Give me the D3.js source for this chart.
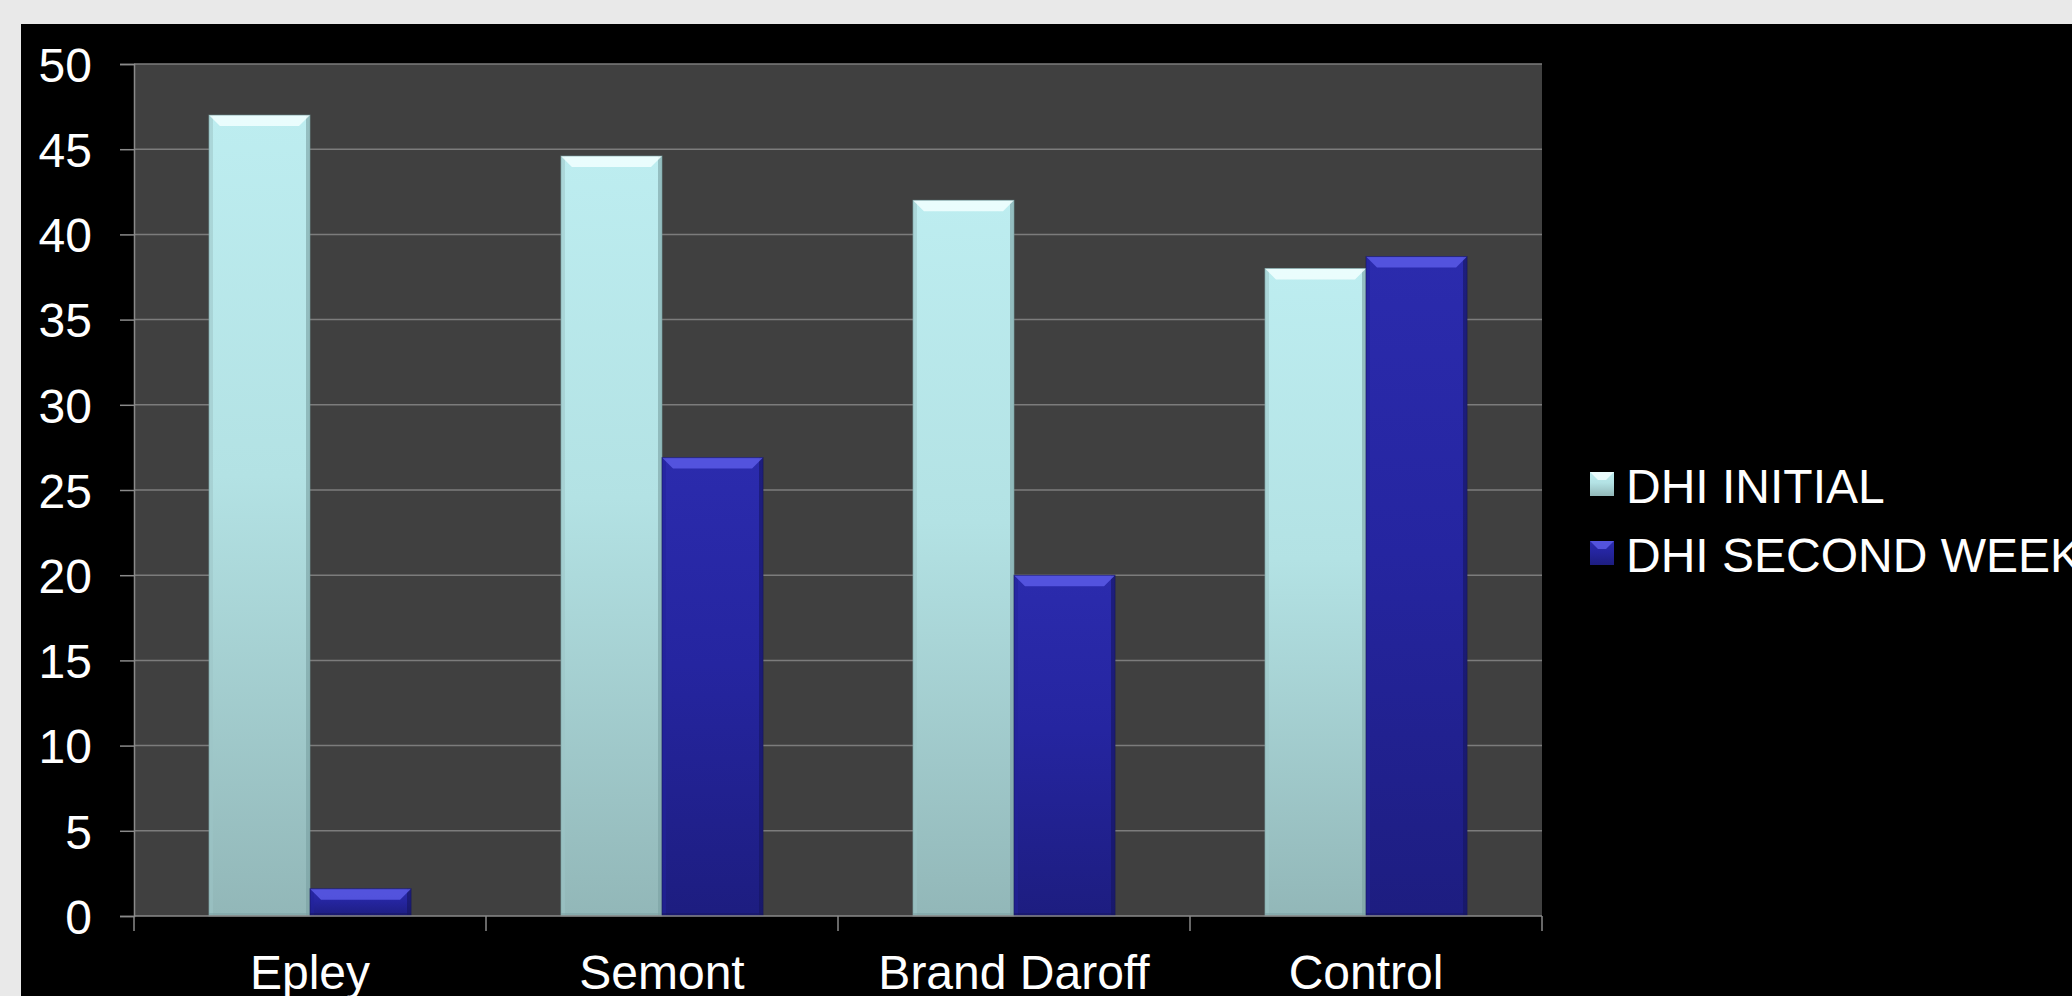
<!DOCTYPE html>
<html>
<head>
<meta charset="utf-8">
<script src="https://cdn.jsdelivr.net/npm/d3@7/dist/d3.min.js"></script>
<style>
  html, body { margin: 0; padding: 0; background: #e9e9e9; }
  svg { display: block; }
  text { font-family: "Liberation Sans", Arial, sans-serif; fill: #ffffff; }
</style>
</head>
<body>
<svg id="chart" width="2072" height="996"></svg>
<script>
// DHI scores by manoeuvre, initial visit vs. second week
const categories = ["Epley", "Semont", "Brand Daroff", "Control"];
const seriesNames = ["DHI INITIAL", "DHI SECOND WEEK"];
const dhiInitial = [47.0, 44.6, 42.0, 38.0];
const dhiSecondWeek = [1.6, 26.9, 20.0, 38.7];
const yTicks = [0, 5, 10, 15, 20, 25, 30, 35, 40, 45, 50];

const seriesValues = [dhiInitial, dhiSecondWeek];

const W = 2072, H = 996;
const plot = { left: 134, right: 1542, top: 64, bottom: 916 };
const FONT = "48px";

const svg = d3.select("#chart");

// page panel
svg.append("rect").attr("x", 21).attr("y", 24)
  .attr("width", W - 21).attr("height", H - 24).attr("fill", "#000");

const defs = svg.append("defs");
const fills = [
  { id: "gLight", stops: [["0%", "#bdedf0"], ["45%", "#b3e2e4"], ["100%", "#92b7b8"]],
    top: "#f2ffff", side: "#9cc4c6", edge: "#7aa0a2" },
  { id: "gDark", stops: [["0%", "#2b2bad"], ["45%", "#2525a0"], ["100%", "#1d1d80"]],
    top: "#5b5be6", side: "#22229a", edge: "#15155e" }
];
fills.forEach(f => {
  const g = defs.append("linearGradient").attr("id", f.id)
    .attr("x1", 0).attr("y1", 0).attr("x2", 0).attr("y2", 1);
  f.stops.forEach(s => g.append("stop").attr("offset", s[0]).attr("stop-color", s[1]));
});

const x = d3.scaleBand().domain(categories).range([plot.left, plot.right])
  .paddingInner(0).paddingOuter(0);
const xs = d3.scaleBand().domain(seriesNames).range([0, x.bandwidth()])
  .paddingInner(0).paddingOuter(0.742);
const y = d3.scaleLinear().domain([0, 50]).range([plot.bottom, plot.top]);

// plot background
svg.append("rect").attr("x", plot.left).attr("y", plot.top)
  .attr("width", plot.right - plot.left).attr("height", plot.bottom - plot.top)
  .attr("fill", "#404040");

// gridlines
svg.append("g").selectAll("line").data(yTicks.filter(t => t > 0)).join("line")
  .attr("x1", plot.left).attr("x2", plot.right)
  .attr("y1", d => y(d)).attr("y2", d => y(d))
  .attr("stroke", "#7c7c7c").attr("stroke-width", 1.5);

// y axis
const yAxis = svg.append("g").attr("transform", `translate(${plot.left},0)`)
  .call(d3.axisLeft(y).tickValues(yTicks).tickSize(14).tickPadding(28));
yAxis.select(".domain").attr("stroke", "#8a8a8a").attr("stroke-width", 1.5);
yAxis.selectAll(".tick line").attr("stroke", "#8a8a8a").attr("stroke-width", 1.5);
yAxis.selectAll(".tick text").attr("fill", "#fff")
  .style("font-family", "'Liberation Sans', Arial, sans-serif")
  .style("font-size", FONT).attr("dy", "0.36em");

// bars with bevelled top and sides
const groups = svg.append("g").selectAll("g").data(categories).join("g")
  .attr("transform", d => `translate(${x(d)},0)`);

seriesNames.forEach((name, si) => {
  const f = fills[si];
  groups.each(function (cat, ci) {
    const v = seriesValues[si][ci];
    const x0 = xs(name), w = xs.bandwidth();
    const yt = y(v), yb = y(0), h = yb - yt;
    const g = d3.select(this).append("g");
    g.append("rect").attr("x", x0).attr("y", yt).attr("width", w).attr("height", h)
      .attr("fill", `url(#${f.id})`);
    const bv = Math.min(11, h * 0.45), sv = 4;
    // side shading
    g.append("rect").attr("x", x0).attr("y", yt).attr("width", sv).attr("height", h)
      .attr("fill", f.side).attr("opacity", 0.55);
    g.append("rect").attr("x", x0 + w - sv).attr("y", yt).attr("width", sv).attr("height", h)
      .attr("fill", f.edge).attr("opacity", 0.6);
    // top bevel
    g.append("path")
      .attr("d", `M${x0},${yt}L${x0 + w},${yt}L${x0 + w - bv},${yt + bv}L${x0 + bv},${yt + bv}Z`)
      .attr("fill", f.top).attr("opacity", 0.85);
    // bottom bevel
    g.append("rect").attr("x", x0).attr("y", yb - 3).attr("width", w).attr("height", 3)
      .attr("fill", f.edge).attr("opacity", 0.5);
    g.append("rect").attr("x", x0).attr("y", yt).attr("width", w).attr("height", h)
      .attr("fill", "none").attr("stroke", f.edge).attr("stroke-width", 1).attr("opacity", 0.6);
  });
});

// x axis line and boundary ticks
svg.append("line").attr("x1", plot.left).attr("x2", plot.right)
  .attr("y1", plot.bottom).attr("y2", plot.bottom)
  .attr("stroke", "#8a8a8a").attr("stroke-width", 1.5);
const bounds = categories.map(c => x(c)).concat([plot.right]);
svg.append("g").selectAll("line").data(bounds).join("line")
  .attr("x1", d => d).attr("x2", d => d)
  .attr("y1", plot.bottom).attr("y2", plot.bottom + 15)
  .attr("stroke", "#8a8a8a").attr("stroke-width", 1.5);

svg.append("g").selectAll("text").data(categories).join("text")
  .attr("x", d => x(d) + x.bandwidth() / 2).attr("y", 989)
  .attr("text-anchor", "middle").style("font-size", FONT).text(d => d);

// legend
const legend = svg.append("g").attr("transform", "translate(1590,472)");
seriesNames.forEach((name, i) => {
  const f = fills[i];
  const g = legend.append("g").attr("transform", `translate(0,${i * 69})`);
  g.append("rect").attr("width", 24).attr("height", 24).attr("fill", `url(#${f.id})`);
  g.append("path").attr("d", "M0,0L24,0L16,8L8,8Z").attr("fill", f.top).attr("opacity", 0.85);
  g.append("text").attr("x", 36).attr("y", 31).style("font-size", FONT).text(name);
});
</script>
</body>
</html>
